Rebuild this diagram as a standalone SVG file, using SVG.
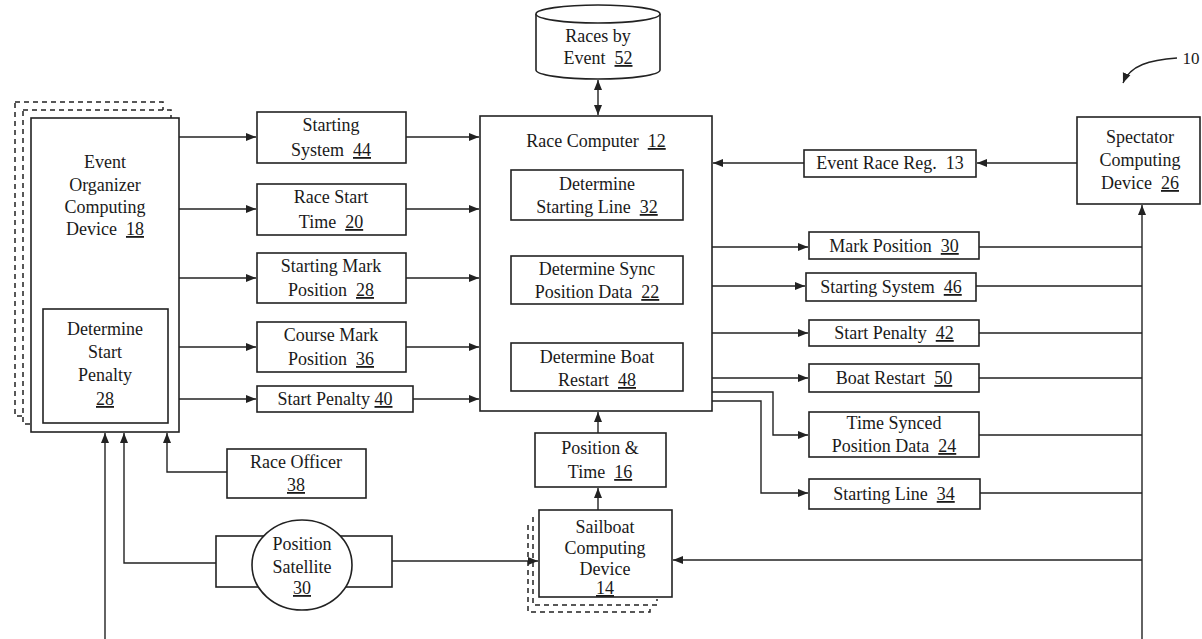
<svg xmlns="http://www.w3.org/2000/svg" width="1202" height="639" viewBox="0 0 1202 639">
<style>
.b{fill:#fff;stroke:#222;stroke-width:1.6}
.d{fill:none;stroke:#222;stroke-width:1.5;stroke-dasharray:5,4}
.t{font-family:"Liberation Serif","Times New Roman",serif;font-size:18px;fill:#1a1a1a;text-anchor:middle}
.u{text-decoration:underline}
.c{fill:none;stroke:#222;stroke-width:1.4}
.a{marker-end:url(#ah)}
</style>
<defs>
<marker id="ah" markerUnits="userSpaceOnUse" markerWidth="11" markerHeight="9" refX="10" refY="4.5" orient="auto-start-reverse">
<path d="M0,0.5 L10,4.5 L0,8.5 z" fill="#222"/>
</marker>
</defs>
<rect width="1202" height="639" fill="#fff"/>

<g id="connectors">
<path class="c a" d="M179,137 H256"/>
<path class="c a" d="M179,209 H256"/>
<path class="c a" d="M179,278 H256"/>
<path class="c a" d="M179,347 H256"/>
<path class="c a" d="M168,399 H256"/>
<path class="c a" d="M406,137 H479"/>
<path class="c a" d="M406,209 H479"/>
<path class="c a" d="M406,278 H479"/>
<path class="c a" d="M406,347 H479"/>
<path class="c a" d="M413,399 H479"/>
<path class="c a" d="M598,80 V115" style="marker-start:url(#ah)"/>
<path class="c a" d="M1077,163 H977"/>
<path class="c a" d="M804,163 H713"/>
<path class="c a" d="M712,247 H808"/>
<path class="c a" d="M712,286 H805"/>
<path class="c a" d="M712,333 H808"/>
<path class="c a" d="M712,378 H808"/>
<path class="c a" d="M712,392 H773 V435 H808"/>
<path class="c a" d="M712,401 H761 V493 H808"/>
<path class="c" d="M979,247 H1142 M976,286 H1142 M979,333 H1142 M979,378 H1142 M979,435 H1142 M980,493 H1142"/>
<path class="c a" d="M1142,639 V205"/>
<path class="c a" d="M1142,560 H673"/>
<path class="c a" d="M598,510 V488"/>
<path class="c a" d="M598,433 V412"/>
<path class="c a" d="M392,561 H538"/>
<path class="c a" d="M216,563 H124 V433"/>
<path class="c a" d="M105,639 V433"/>
<path class="c a" d="M227,472 H167 V433"/>
<path class="c a" d="M1177,58 C1150,60 1130,65 1123,83"/>
</g>

<g id="n18">
<rect class="d" x="15" y="102" width="148" height="314" style="fill:#fff"/>
<rect class="d" x="23" y="110" width="148" height="314" style="fill:#fff"/>
<rect class="b" x="31" y="118" width="148" height="314"/>
<text class="t" x="105" y="168">Event</text>
<text class="t" x="105" y="191">Organizer</text>
<text class="t" x="105" y="213">Computing</text>
<text class="t" x="105" y="235">Device&#160; <tspan class="u">18</tspan></text>
</g>
<g id="n28a">
<rect class="b" x="43" y="309" width="125" height="114"/>
<text class="t" x="105" y="335">Determine</text>
<text class="t" x="105" y="358">Start</text>
<text class="t" x="105" y="381">Penalty</text>
<text class="t" x="105" y="405"><tspan class="u">28</tspan></text>
</g>

<g id="n44"><rect class="b" x="257" y="112" width="149" height="51"/>
<text class="t" x="331" y="131">Starting</text><text class="t" x="331" y="156">System&#160; <tspan class="u">44</tspan></text></g>
<g id="n20"><rect class="b" x="257" y="184" width="149" height="51"/>
<text class="t" x="331" y="203">Race Start</text><text class="t" x="331" y="228">Time&#160; <tspan class="u">20</tspan></text></g>
<g id="n28b"><rect class="b" x="257" y="253" width="149" height="50"/>
<text class="t" x="331" y="272">Starting Mark</text><text class="t" x="331" y="296">Position&#160; <tspan class="u">28</tspan></text></g>
<g id="n36"><rect class="b" x="257" y="322" width="149" height="50"/>
<text class="t" x="331" y="341">Course Mark</text><text class="t" x="331" y="365">Position&#160; <tspan class="u">36</tspan></text></g>
<g id="n40"><rect class="b" x="257" y="386" width="156" height="26"/>
<text class="t" x="335" y="405">Start Penalty <tspan class="u">40</tspan></text></g>

<g id="n52">
<path class="b" d="M536,14 V70 A62,9 0 0 0 660,70 V14"/>
<ellipse class="b" cx="598" cy="14" rx="62" ry="9"/>
<text class="t" x="598" y="42">Races by</text>
<text class="t" x="598" y="64">Event&#160; <tspan class="u">52</tspan></text>
</g>

<g id="n12">
<rect class="b" x="480" y="116" width="232" height="295"/>
<text class="t" x="596" y="147">Race Computer&#160; <tspan class="u">12</tspan></text>
</g>
<g id="n32"><rect class="b" x="511" y="170" width="172" height="50"/>
<text class="t" x="597" y="190">Determine</text><text class="t" x="597" y="213">Starting Line&#160; <tspan class="u">32</tspan></text></g>
<g id="n22"><rect class="b" x="511" y="256" width="172" height="48"/>
<text class="t" x="597" y="275">Determine Sync</text><text class="t" x="597" y="298">Position Data&#160; <tspan class="u">22</tspan></text></g>
<g id="n48"><rect class="b" x="511" y="343" width="172" height="48"/>
<text class="t" x="597" y="363">Determine Boat</text><text class="t" x="597" y="386">Restart&#160; <tspan class="u">48</tspan></text></g>

<g id="n13"><rect class="b" x="804" y="150" width="172" height="27"/>
<text class="t" x="890" y="169">Event Race Reg.&#160; 13</text></g>
<g id="n26"><rect class="b" x="1077" y="117" width="123" height="87"/>
<text class="t" x="1140" y="143">Spectator</text><text class="t" x="1140" y="166">Computing</text><text class="t" x="1140" y="189">Device&#160; <tspan class="u">26</tspan></text></g>
<g id="n10"><text class="t" x="1191" y="64" style="font-size:17px">10</text></g>

<g id="n30"><rect class="b" x="809" y="232" width="170" height="27"/>
<text class="t" x="894" y="252">Mark Position&#160; <tspan class="u">30</tspan></text></g>
<g id="n46"><rect class="b" x="806" y="273" width="170" height="28"/>
<text class="t" x="891" y="293">Starting System&#160; <tspan class="u">46</tspan></text></g>
<g id="n42"><rect class="b" x="809" y="320" width="170" height="26"/>
<text class="t" x="894" y="339">Start Penalty&#160; <tspan class="u">42</tspan></text></g>
<g id="n50"><rect class="b" x="809" y="364" width="170" height="28"/>
<text class="t" x="894" y="384">Boat Restart&#160; <tspan class="u">50</tspan></text></g>
<g id="n24"><rect class="b" x="809" y="412" width="170" height="45"/>
<text class="t" x="894" y="429">Time Synced</text><text class="t" x="894" y="452">Position Data&#160; <tspan class="u">24</tspan></text></g>
<g id="n34"><rect class="b" x="809" y="479" width="171" height="30"/>
<text class="t" x="894" y="500">Starting Line&#160; <tspan class="u">34</tspan></text></g>

<g id="n16"><rect class="b" x="535" y="433" width="131" height="54"/>
<text class="t" x="600" y="454">Position &amp;</text><text class="t" x="600" y="478">Time&#160; <tspan class="u">16</tspan></text></g>

<g id="n14">
<path class="d" d="M528,525 V612 H650 V606"/>
<path class="d" d="M533,517 V605 H657 V599"/>
<rect class="b" x="539" y="510" width="133" height="87"/>
<text class="t" x="605" y="533">Sailboat</text><text class="t" x="605" y="554">Computing</text><text class="t" x="605" y="575">Device</text><text class="t" x="605" y="594"><tspan class="u">14</tspan></text>
</g>

<g id="n38"><rect class="b" x="227" y="449" width="139" height="49"/>
<text class="t" x="296" y="468">Race Officer</text><text class="t" x="296" y="491"><tspan class="u">38</tspan></text></g>

<g id="n30s">
<rect class="b" x="216" y="536" width="176" height="51"/>
<ellipse class="b" cx="302" cy="565" rx="50" ry="45"/>
<text class="t" x="302" y="550">Position</text><text class="t" x="302" y="573">Satellite</text><text class="t" x="302" y="594"><tspan class="u">30</tspan></text>
</g>
</svg>
